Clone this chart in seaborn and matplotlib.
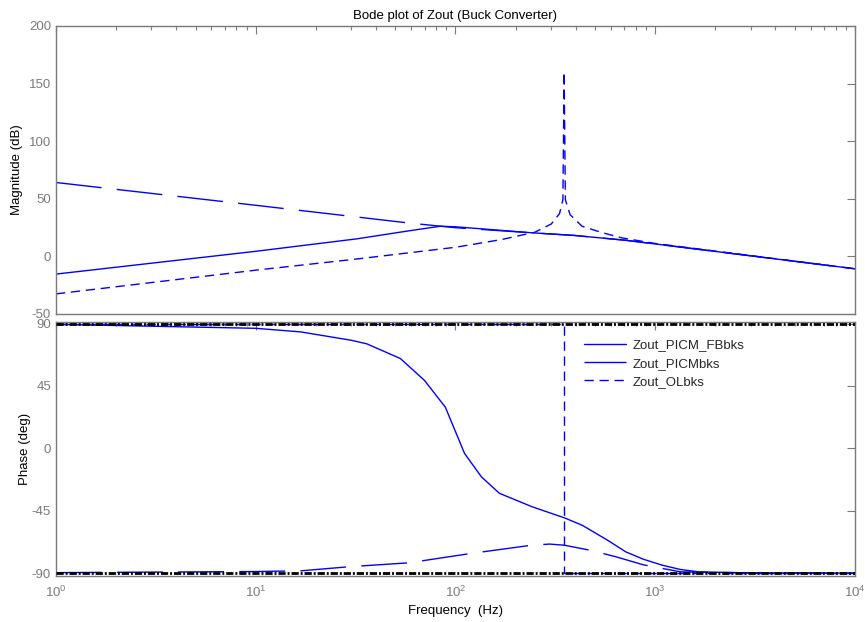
import matplotlib
matplotlib.use("Agg")
import matplotlib.pyplot as plt
import seaborn as sns
import pandas as pd
from matplotlib.ticker import LogLocator, NullFormatter, FixedLocator, LogFormatterSciNotation

# ---------------- data ----------------
series_names = ["Zout_PICM_FBbks", "Zout_PICMbks", "Zout_OLbks"]

# Magnitude (dB)
fb_mag_f = [1, 10, 32, 57, 84, 100, 241, 393, 710, 1000, 10000]
fb_mag_db = [-15.6, 4.2, 15, 21.7, 26, 25.5, 20.3, 18, 13.8, 10.6, -11]

picm_mag_f = [1, 10, 57, 100, 241, 393, 710, 1000, 10000]
picm_mag_db = [64, 44.2, 29, 24.7, 20.3, 18, 13.8, 10.6, -11]

ol_mag_f = [1, 10, 32, 100, 170, 250, 302, 332, 345, 350, 355, 375, 430, 540, 680, 1000, 10000]
ol_mag_db = [-32.8, -12.2, -2.5, 7.7, 14.4, 20.8, 28, 37, 49, 160, 49, 36, 26, 20.5, 15.9, 11, -11]

# Phase (deg)
fb_ph_f = [1, 10, 16.8, 30, 36, 53, 70, 89, 111, 135, 166, 241, 304, 350, 432, 577, 712, 875,
           1083, 1335, 1646, 3000, 10000]
fb_ph_deg = [89.5, 86.6, 84, 78, 75.4, 64.8, 49, 29.7, -3.6, -20.6, -32.4, -42, -47, -50, -55.5,
             -66.2, -74.6, -80, -84.2, -87.3, -89, -89.8, -90]

picm_ph_f = [1, 10, 16.8, 29, 58.5, 119, 241, 296, 350, 471, 630, 875, 1335, 3000, 10000]
picm_ph_deg = [-89.6, -88.8, -88.3, -85.4, -82.5, -75.8, -69.8, -69, -69.8, -73.4, -78, -84, -89,
               -89.8, -90]

ol_ph_f = [1, 10, 100, 350, 350, 1000, 10000]
ol_ph_deg = [90, 90, 90, 90, -90, -90, -90]

mag_ticks = [-50, 0, 50, 100, 150, 200]
phase_ticks = [-90, -45, 0, 45, 90]

# ---------------- style ----------------
sns.set_theme(style="white")
plt.rcParams["font.family"] = ["Liberation Sans", "DejaVu Sans"]
plt.rcParams["axes.unicode_minus"] = False
plt.rcParams["mathtext.default"] = "regular"

GRAY = "#7a7a7a"
BLUE = "#0000ff"
FS = 9.5

fig = plt.figure(figsize=(8.65, 6.22), dpi=100)
ax1 = fig.add_axes([0.0647, 0.4957, 0.9237, 0.4625])
ax2 = fig.add_axes([0.0647, 0.0740, 0.9237, 0.4091])

styles = ["-", (0, (33, 11)), (0, (6.7, 4.1))]

mag_data = [(fb_mag_f, fb_mag_db), (picm_mag_f, picm_mag_db), (ol_mag_f, ol_mag_db)]
ph_data = [(fb_ph_f, fb_ph_deg), (picm_ph_f, picm_ph_deg), (ol_ph_f, ol_ph_deg)]

for ax in (ax1, ax2):
    ax.set_xscale("log")

for (f, v), ls, name in zip(mag_data, styles, series_names):
    df = pd.DataFrame({"f": f, "v": v})
    sns.lineplot(data=df, x="f", y="v", ax=ax1, color=BLUE, linewidth=1.0,
                 linestyle=ls, estimator=None, sort=False)

for (f, v), ls, name in zip(ph_data, styles, series_names):
    df = pd.DataFrame({"f": f, "v": v})
    sns.lineplot(data=df, x="f", y="v", ax=ax2, color=BLUE, linewidth=1.0,
                 linestyle=ls, estimator=None, sort=False, label=name)

for yv in (90, -90):
    ax2.axhline(yv, color="black", linewidth=2.0, linestyle=(0, (2.6, 0.7, 0.7, 0.7)), zorder=5)

ax1.set_xlim(1, 1e4)
ax2.set_xlim(1, 1e4)
ax1.set_ylim(-50, 200)
ax2.set_ylim(-92, 91.5)

ax1.yaxis.set_major_locator(FixedLocator(mag_ticks))
ax2.yaxis.set_major_locator(FixedLocator(phase_ticks))

for ax in (ax1, ax2):
    ax.xaxis.set_major_locator(LogLocator(base=10, numticks=10))
    ax.xaxis.set_minor_locator(LogLocator(base=10, subs=range(2, 10), numticks=20))
    ax.xaxis.set_minor_formatter(NullFormatter())
    ax.tick_params(which="major", direction="in", length=5.5, width=0.8, color=GRAY,
                   labelcolor=GRAY, labelsize=FS, top=True, right=True)
    ax.tick_params(which="minor", direction="in", length=3, width=0.8, color=GRAY,
                   top=True, right=True)
    ax.tick_params(axis="y", which="minor", left=False, right=False)
    for s in ax.spines.values():
        s.set_color(GRAY)
        s.set_linewidth(1.0)
    ax.set_facecolor("white")

ax1.xaxis.set_major_formatter(NullFormatter())
ax2.xaxis.set_major_formatter(LogFormatterSciNotation())
ax2.tick_params(axis="x", which="major", pad=6)

ax1.set_xlabel("")
ax1.set_ylabel("Magnitude (dB)", fontsize=FS, color="black")
ax1.yaxis.set_label_coords(-0.041, 0.5)
ax2.set_ylabel("Phase (deg)", fontsize=FS, color="black")
ax2.yaxis.set_label_coords(-0.031, 0.5)
ax2.set_xlabel("Frequency  (Hz)", fontsize=FS, color="black")
ax2.xaxis.set_label_coords(0.5, -0.115)

ax1.set_title("Bode plot of Zout (Buck Converter)", fontsize=FS, color="black", pad=5)

leg = ax2.legend(loc="upper left", bbox_to_anchor=(0.661, 0.93), frameon=False, fontsize=FS,
                 handlelength=3.2, handletextpad=0.5, labelspacing=0.45, borderaxespad=0,
                 borderpad=0)

fig.savefig("out.png", dpi=100, facecolor="white")
